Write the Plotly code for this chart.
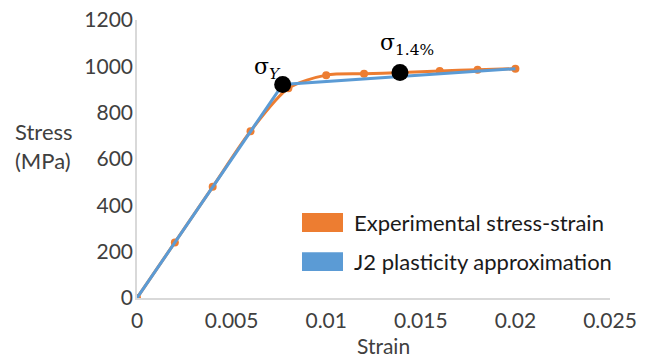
import plotly.graph_objects as go

# Data
exp_strain = [0, 0.002, 0.004, 0.006, 0.008, 0.010, 0.012, 0.014, 0.016, 0.018, 0.020]
exp_stress = [0, 240, 480, 720, 905, 962, 968, 973, 980, 985, 990]

j2_strain = [0, 0.0077, 0.020]
j2_stress = [0, 922, 990]

key_strain = [0.0077, 0.0139]
key_stress = [922, 973]
key_labels = ["σ<sub><i>Y</i></sub>", "σ<sub>1.4%</sub>"]

series_names = ["Experimental stress-strain", "J2 plasticity approximation"]
ORANGE = "#ED7D31"
BLUE = "#5B9BD5"
AXIS = "#D9D9D9"
TXT = "#404040"
FONT = "Lato"

fig = go.Figure()
fig.add_trace(go.Scatter(x=exp_strain, y=exp_stress, mode="lines+markers",
                         line=dict(color=ORANGE, width=3, shape="spline", smoothing=0.8),
                         marker=dict(color=ORANGE, size=8), showlegend=False))
fig.add_trace(go.Scatter(x=j2_strain, y=j2_stress, mode="lines",
                         line=dict(color=BLUE, width=3), showlegend=False))
fig.add_trace(go.Scatter(x=key_strain, y=key_stress, mode="markers",
                         marker=dict(color="black", size=17), showlegend=False))

# labels for key points (offset in pixels from the dot centre)
offsets = [(-15, 16), (7, 28)]
for xs, ys, lab, (dx, dy) in zip(key_strain, key_stress, key_labels, offsets):
    fig.add_annotation(x=xs, y=ys, text=lab, showarrow=False, xref="x", yref="y",
                       xshift=dx, yshift=dy, xanchor="center", yanchor="middle",
                       font=dict(family="DejaVu Serif", size=22, color="black"))

# manual legend
leg_y = [0.2716, 0.131]
for yy, name, col in zip(leg_y, series_names, [ORANGE, BLUE]):
    fig.add_shape(type="rect", xref="paper", yref="paper",
                  x0=(302 - 137) / 473, x1=(343 - 137) / 473,
                  y0=yy - 0.034, y1=yy + 0.034, fillcolor=col, line=dict(width=0))
    fig.add_annotation(x=(352 - 137) / 473, y=yy, xref="paper", yref="paper",
                       text=name, showarrow=False, xanchor="left", yanchor="middle",
                       font=dict(family=FONT, size=22, color="#1a1a1a"))

# axis titles
fig.add_annotation(x=(44 - 137) / 473, y=(298 - 146) / 278, xref="paper", yref="paper",
                   text="Stress<br>(MPa)", showarrow=False, align="left",
                   xanchor="center", yanchor="middle",
                   font=dict(family=FONT, size=22, color=TXT))
fig.add_annotation(x=(383 - 137) / 473, y=(298 - 345) / 278, xref="paper", yref="paper",
                   text="Strain", showarrow=False, xanchor="center", yanchor="middle",
                   font=dict(family=FONT, size=21, color=TXT))

fig.update_xaxes(range=[0, 0.025], dtick=0.005, tick0=0, showgrid=False, zeroline=False,
                 showline=True, linecolor=AXIS, linewidth=1.5, ticks="", automargin=False,
                 tickfont=dict(family=FONT, size=21, color=TXT), ticklabelstandoff=3)
fig.update_yaxes(range=[0, 1200], dtick=200, tick0=0, showgrid=False, zeroline=False,
                 showline=True, linecolor=AXIS, linewidth=1.5, ticks="", automargin=False,
                 tickfont=dict(family=FONT, size=21, color=TXT), ticklabelstandoff=-2)

fig.update_layout(width=653, height=359, margin=dict(l=137, r=43, t=20, b=61),
                  plot_bgcolor="white", paper_bgcolor="white", showlegend=False)

fig.write_html("out.html", config={"displayModeBar": False},
               post_script="document.body.style.margin='0';document.body.style.padding='0';")
